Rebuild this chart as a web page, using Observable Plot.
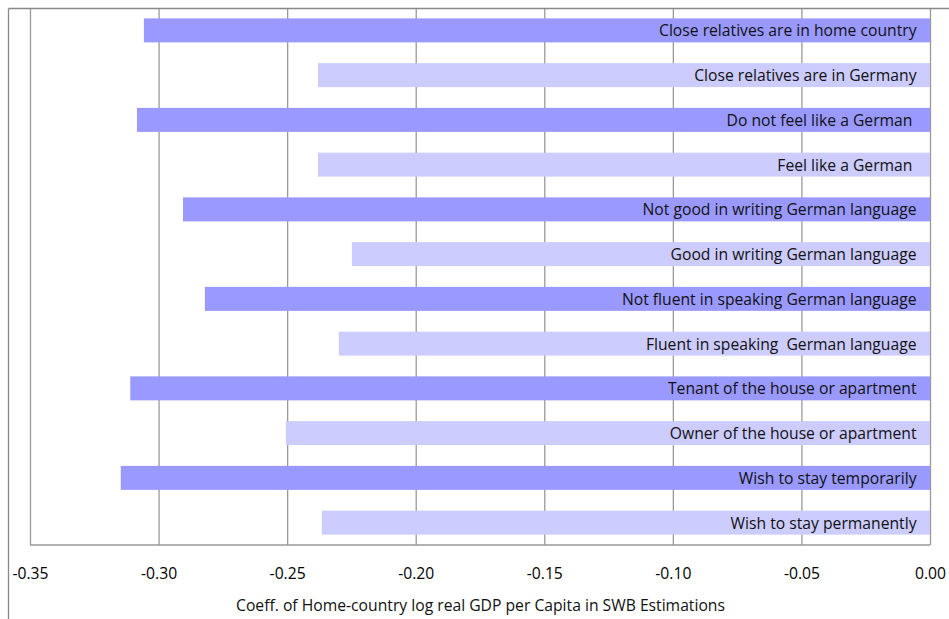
<!DOCTYPE html>
<html>
<head>
<meta charset="utf-8">
<script src="https://cdn.jsdelivr.net/npm/d3@7"></script>
<script src="https://cdn.jsdelivr.net/npm/@observablehq/plot@0.6"></script>
<style>
  html, body { margin: 0; padding: 0; background: #fff; }
  #chart svg { display: block; }
</style>
</head>
<body>
<div id="chart"></div>
<script>
const categories = [
  "Close relatives are in home country",
  "Close relatives are in Germany",
  "Do not feel like a German ",
  "Feel like a German ",
  "Not good in writing German language",
  "Good in writing German language",
  "Not fluent in speaking German language",
  "Fluent in speaking  German language",
  "Tenant of the house or apartment",
  "Owner of the house or apartment",
  "Wish to stay temporarily",
  "Wish to stay permanently"
];
const values = [-0.3057, -0.238, -0.3084, -0.238, -0.2905, -0.2248, -0.282, -0.2299, -0.311, -0.2505, -0.3147, -0.2365];
const groups = ["dark", "light", "dark", "light", "dark", "light", "dark", "light", "dark", "light", "dark", "light"];
const xTicks = [-0.35, -0.30, -0.25, -0.20, -0.15, -0.10, -0.05, 0.00];
const axisTitle = "Coeff. of Home-country log real GDP per Capita in SWB Estimations";

const data = categories.map((c, i) => ({category: c, value: values[i], group: groups[i]}));
const fmt = d => d.toFixed(2);

const W = 949, H = 619;
const FONT = "'Open Sans', sans-serif";
const FS = 15.7;
const chart = Plot.plot({
  width: W,
  height: H,
  marginLeft: 30,
  marginRight: 19,
  marginTop: 8,
  marginBottom: 74,
  style: {fontFamily: FONT, fontSize: FS + "px", background: "#fff", overflow: "visible"},
  x: {domain: [-0.35, 0], ticks: xTicks, tickFormat: fmt, label: null},
  y: {domain: categories, paddingInner: 0.464, paddingOuter: 0.232, round: false, axis: null},
  color: {domain: ["dark", "light"], range: ["#9999ff", "#ccccff"]},
  marks: [
    Plot.ruleX(xTicks, {stroke: "#999", strokeWidth: 1.3}),
    Plot.barX(data, {x1: 0, x2: "value", y: "category", fill: "group"}),
    Plot.text(data, {x: 0, y: "category", text: "category", textAnchor: "end", dx: -14, dy: 0.5, fill: "#111", fontSize: FS}),
    Plot.axisX({ticks: xTicks, tickFormat: fmt, tickSize: 0, tickPadding: 22, fontSize: FS, fill: "#000", label: null}),
    Plot.text([axisTitle], {frameAnchor: "bottom", x: -0.175, dy: 65, fontSize: FS, fill: "#111"})
  ]
});
document.getElementById("chart").appendChild(chart);

const svg = d3.select(chart);
const xs = chart.scale("x");
const yBottom = H - 74;
// bottom axis line through the x scale
svg.append("line")
  .attr("x1", xs.apply(-0.35)).attr("x2", xs.apply(0))
  .attr("y1", yBottom).attr("y2", yBottom)
  .attr("stroke", "#999").attr("stroke-width", 1.3);
// outer chart-area border (top and left edges)
svg.append("line").attr("x1", 8.5).attr("x2", W).attr("y1", 8.5).attr("y2", 8.5).attr("stroke", "#888").attr("stroke-width", 1.3);
svg.append("line").attr("x1", 8.5).attr("x2", 8.5).attr("y1", 8.5).attr("y2", H).attr("stroke", "#888").attr("stroke-width", 1.3);
</script>
</body>
</html>
